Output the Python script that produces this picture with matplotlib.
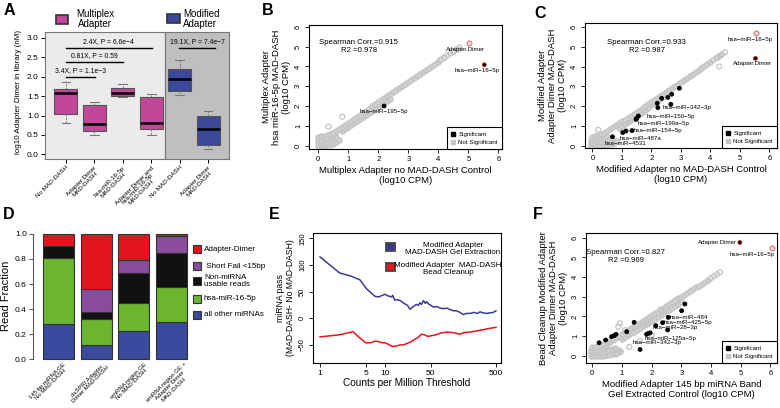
import numpy as np
import matplotlib.pyplot as plt
from matplotlib.lines import Line2D
from matplotlib.patches import Rectangle

plt.rcParams["font.family"] = ["Liberation Sans", "DejaVu Sans"]
plt.rcParams["axes.linewidth"] = 0.8

W, H = 780, 408
MAG = "#c2479b"
NAVY = "#3c4899"
GRAY_PT = "#c4c4c4"
GRAY_FILL = "#d2d2d2"
RING = "#e07070"

# ---------------- A: adapter dimer boxplots ----------------
A_labels = ["No MAD-DASH", "Adapter Dimer\nMAD-DASH", "hsa-miR-16-5p\nMAD-DASH",
            "Adapter Dimer and\nhsa-miR-16-5p\nMAD-DASH", "No MAD-DASH",
            "Adapter Dimer\nMAD-DASH"]
A_adapter = ["Multiplex", "Multiplex", "Multiplex", "Multiplex", "Modified", "Modified"]
A_whislo = [0.81, 0.50, 1.47, 0.51, 1.52, 0.15]
A_q1 = [1.03, 0.61, 1.51, 0.64, 1.62, 0.23]
A_med = [1.59, 0.78, 1.59, 0.81, 1.94, 0.66]
A_q3 = [1.67, 1.27, 1.71, 1.48, 2.19, 0.99]
A_whishi = [1.85, 1.34, 1.80, 1.56, 2.44, 1.12]
A_cmp_from = [1, 1, 1, 4.98]
A_cmp_to = [2.03, 3.0, 4.02, 6.24]
A_cmp_y = [2.0, 2.38, 2.75, 2.75]
A_cmp_text = ["3.4X, P = 1.1e\u22123", "0.81X, P = 0.59", "2.4X, P = 6.6e\u22124",
              "19.1X, P = 7.4e\u22127"]

# ---------------- B: multiplex adapter, miR-16 MAD-DASH ----------------
B_ns_x = [0.0, 0.1, 0.2, 0.3, 0.4, 0.5, 0.6, 0.7,
          0.0, 0.1, 0.2, 0.3, 0.4, 0.5, 0.6,
          0.0, 0.1, 0.2, 0.3, 0.4, 0.5,
          0.0, 0.1, 0.2, 0.3, 0.4,
          0.8, 0.9, 1.0, 1.1, 1.2, 1.3, 1.4, 1.5, 1.6, 1.7, 1.8, 1.9, 2.0, 2.1, 2.2, 2.3, 2.4,
          0.5, 0.6, 0.7, 0.8, 0.9, 1.0, 1.1, 1.2, 1.3, 1.4, 1.5, 1.6, 1.7, 1.8, 1.9, 2.0,
          2.1, 2.2, 2.3, 2.4, 2.5, 2.6, 2.7, 2.8, 2.9, 3.0, 3.1, 3.2, 3.3, 3.4, 3.5, 3.6,
          3.7, 3.8, 3.9, 4.0]
B_ns_y = [0.0, 0.0, 0.0, 0.02, 0.05, 0.1, 0.17, 0.27,
          0.15, 0.15, 0.16, 0.2, 0.24, 0.32, 0.42,
          0.3, 0.3, 0.33, 0.37, 0.43, 0.55,
          0.45, 0.47, 0.5, 0.55, 0.6,
          0.72, 0.82, 0.92, 1.02, 1.12, 1.22, 1.32, 1.43, 1.53, 1.63, 1.74, 1.84, 1.95, 2.05,
          2.16, 2.26, 2.37,
          0.64, 0.74, 0.84, 0.94, 1.05, 1.15, 1.25, 1.36, 1.46, 1.56, 1.67, 1.77, 1.87, 1.98,
          2.08, 2.18, 2.29, 2.39, 2.49, 2.59, 2.70, 2.80, 2.90, 3.01, 3.11, 3.21, 3.32, 3.42,
          3.52, 3.62, 3.73, 3.83, 3.93, 4.04, 4.14, 4.24]
B_out_x = [4.1, 4.2, 4.3, 4.4, 4.5, 4.6, 4.7, 0.34, 0.8, 4.05, 4.2, 4.5, 4.66]
B_out_y = [4.35, 4.45, 4.55, 4.65, 4.76, 4.86, 4.96, 0.96, 1.46, 4.3, 4.42, 4.72, 4.85]
B_sig_x = [2.19, 5.53]
B_sig_y = [2.0, 4.08]
B_sig_names = ["hsa\u2212miR\u2212195\u22125p", "hsa\u2212miR\u221216\u22125p"]
B_ring_x = [5.03]
B_ring_y = [5.17]
B_ring_names = ["Adapter.Dimer"]

# ---------------- C: modified adapter, dimer MAD-DASH ----------------
C_ns_x = [-0.05, 0.05, 0.15, 0.25, 0.35, 0.45, 0.55, 0.65, 0.75, 0.85,
          -0.05, 0.05, 0.15, 0.25, 0.35, 0.45, 0.55, 0.65,
          -0.05, 0.05, 0.15, 0.25, 0.35, 0.45,
          0.0, 0.1, 0.2, 0.3, 0.4,
          0.9, 1.0, 1.1, 1.2, 1.3, 1.4, 1.5, 1.6, 1.7, 1.8, 1.9, 2.0, 2.1, 2.2, 2.3, 2.4, 2.5,
          0.5, 0.6, 0.7, 0.8, 0.9, 1.0, 1.1, 1.2, 1.3, 1.4, 1.5, 1.6, 1.7, 1.8, 1.9, 2.0,
          2.1, 2.2, 2.3, 2.4, 2.5, 2.6, 2.7, 2.8, 2.9, 3.0, 3.1, 3.2, 3.3, 3.4, 3.5, 3.6,
          3.7, 3.8, 3.9, 4.0]
C_ns_y = [0.0, 0.0, 0.0, 0.0, 0.02, 0.03, 0.06, 0.1, 0.15, 0.22,
          0.15, 0.15, 0.16, 0.18, 0.21, 0.25, 0.3, 0.38,
          0.3, 0.31, 0.33, 0.37, 0.42, 0.5,
          0.45, 0.48, 0.53, 0.6, 0.66,
          0.88, 0.98, 1.08, 1.19, 1.29, 1.4, 1.5, 1.61, 1.71, 1.82, 1.92, 2.03, 2.13, 2.24,
          2.34, 2.45, 2.55,
          0.72, 0.82, 0.92, 1.02, 1.12, 1.22, 1.32, 1.42, 1.52, 1.62, 1.72, 1.82, 1.92, 2.02,
          2.12, 2.22, 2.32, 2.42, 2.52, 2.62, 2.72, 2.82, 2.92, 3.02, 3.12, 3.22, 3.32, 3.42,
          3.52, 3.62, 3.72, 3.82, 3.92, 4.02, 4.12, 4.22]
C_out_x = [4.1, 4.2, 4.3, 4.4, 4.5, 4.3, 4.25, 4.35, 0.2]
C_out_y = [4.32, 4.42, 4.52, 4.62, 4.72, 4.0, 4.45, 4.55, 0.8]
C_sig_x = [2.95, 2.69, 2.56, 2.35, 2.2, 2.22, 2.66, 1.56, 1.5, 1.48, 1.34, 1.14, 1.03,
           0.68, 5.53]
C_sig_y = [2.9, 2.6, 2.44, 2.39, 2.14, 1.92, 2.09, 1.5, 1.38, 1.33, 0.76, 0.74, 0.66,
           0.45, 4.41]
C_ring_x = [5.54]
C_ring_y = [5.71]

# ---------------- D: read fractions ----------------
D_samples = ["145 bp miRNA GE\nNo MAD-DASH", "dsSPRI Adapter\nDimer MAD-DASH",
             "smRNA region GE\nNo MAD-DASH", "smRNA region GE +\nAdapter Dimer\nMAD-DASH"]
D_all_other = [0.285, 0.115, 0.23, 0.295]
D_mir16 = [0.525, 0.205, 0.22, 0.28]
D_non_mirna = [0.095, 0.06, 0.235, 0.275]
D_short_fail = [0.0, 0.18, 0.11, 0.135]
D_dimer = [0.095, 0.44, 0.205, 0.015]
D_names = ["all other miRNAs", "hsa-miR-16-5p", "Non-miRNA\nusable reads",
           " Short Fail <15bp", "Adapter-Dimer"]
D_colors = ["#3a4a9c", "#6cb52f", "#111111", "#8a4c9c", "#e3141e"]

# ---------------- E: miRNA pass difference ----------------
E_blue_x = [1, 2, 3, 4.1, 5.1, 6, 7, 8, 9, 10, 11, 12.6, 13, 14, 15, 17, 19.4, 22, 24, 27,
            30, 32, 34, 36, 38.5, 41, 43, 46, 49, 55, 62, 70, 78, 88, 100, 112, 124, 140,
            157, 178, 200, 230, 260, 284, 320, 359, 400, 455, 500]
E_blue_y = [115, 85, 79, 72, 56, 48, 41, 40, 43, 45, 42, 40, 43, 34, 35, 33, 28, 24, 17, 22,
            26, 24, 29, 26, 33, 28, 31, 27, 25, 21, 22, 19, 18, 19, 16, 14, 14, 11, 7, 9,
            9, 11, 9, 12, 10, 9, 10, 11, 14]
E_red_x = [1, 2, 3, 3.2, 4, 5, 6, 7, 8, 9, 10, 12, 13, 15, 17, 19, 22, 25, 28, 32, 36, 40,
           45, 50, 60, 70, 88, 110, 140, 160, 200, 250, 300, 400, 500]
E_red_y = [-35, -31, -26, -25, -36, -46, -46, -43, -44, -46, -46, -51, -53, -52, -50, -50,
           -47, -44, -40, -36, -30, -31, -34, -33, -31, -28, -26, -27, -30, -27, -26, -24,
           -22, -19, -17]

# ---------------- F: bead cleanup vs gel extraction ----------------
F_ns_x = [-0.05, 0.05, 0.15, 0.25, 0.35, 0.45, 0.55, 0.65, 0.75, 0.85, 0.95,
          -0.05, 0.05, 0.15, 0.25, 0.35, 0.45, 0.55, 0.65, 0.75,
          -0.05, 0.05, 0.15, 0.25, 0.35, 0.45,
          0.0, 0.1, 0.2, 0.3, 0.4,
          1.0, 1.1, 1.2, 1.3, 1.4, 1.5, 1.6, 1.7, 1.8, 1.9, 2.0, 2.1, 2.2, 2.3, 2.4, 2.5,
          2.6, 2.7, 2.8, 2.9, 3.0,
          0.5, 0.6, 0.7, 0.8, 0.9, 1.0, 1.1, 1.2, 1.3, 1.4, 1.5, 1.6, 1.7, 1.8, 1.9, 2.0,
          2.1, 2.2, 2.3, 2.4, 2.5, 2.6, 2.7, 2.8, 2.9, 3.0, 3.1, 3.2, 3.3, 3.4, 3.5, 3.6,
          3.7, 3.8, 3.9]
F_ns_y = [0.0, 0.0, 0.0, 0.0, 0.0, 0.02, 0.04, 0.07, 0.1, 0.15, 0.22,
          0.14, 0.14, 0.15, 0.17, 0.2, 0.24, 0.28, 0.34, 0.4,
          0.28, 0.29, 0.31, 0.35, 0.4, 0.48,
          0.42, 0.45, 0.5, 0.56, 0.62,
          0.85, 0.94, 1.04, 1.13, 1.22, 1.32, 1.41, 1.50, 1.59, 1.69, 1.78, 1.87, 1.97, 2.06,
          2.15, 2.25, 2.34, 2.43, 2.52, 2.62, 2.71,
          0.63, 0.72, 0.82, 0.91, 1.01, 1.1, 1.2, 1.29, 1.39, 1.48, 1.58, 1.67, 1.77, 1.86,
          1.96, 2.05, 2.15, 2.24, 2.34, 2.43, 2.53, 2.62, 2.72, 2.81, 2.91, 3.0, 3.1, 3.19,
          3.29, 3.38, 3.48, 3.57, 3.67, 3.76, 3.86]
F_out_x = [4.0, 4.1, 4.2, 4.3, 2.3, 2.45, 1.44, 1.7, 1.88, 0.93, 0.88, 0.53, 0.88, 0.95,
           1.25, 1.6, 2.0, 1.1]
F_out_y = [3.95, 4.05, 4.14, 4.24, 2.35, 2.28, 1.52, 1.55, 1.6, 1.65, 1.48, 0.71, 0.29,
           0.18, 0.45, 0.75, 1.05, 1.3]
F_sig_x = [3.12, 3.01, 2.56, 2.37, 2.14, 2.54, 1.89, 1.83, 1.95, 1.41, 1.61, 1.16, 0.8,
           0.74, 0.65, 0.45, 0.23, 4.97]
F_sig_y = [2.63, 2.29, 1.95, 1.68, 1.53, 1.31, 1.14, 1.09, 1.16, 1.7, 0.32, 1.22, 1.09,
           1.02, 0.97, 0.8, 0.66, 5.76]
F_ring_x = [6.05]
F_ring_y = [5.46]

fig = plt.figure(figsize=(7.8, 4.08), dpi=100)


def px_axes(left, top, right, bottom):
    return fig.add_axes([left / W, 1 - bottom / H, (right - left) / W, (bottom - top) / H])


def ftext(x, y, s, **kw):
    fig.text(x / W, 1 - y / H, s, **kw)


def fsquare(left, top, size_w, size_h, color, lw=1.2, edge="#333333"):
    fig.add_artist(Rectangle((left / W, 1 - (top + size_h) / H), size_w / W, size_h / H,
                             transform=fig.transFigure, facecolor=color,
                             edgecolor=edge, lw=lw))


for letter, x, y in [("A", 4, 3), ("B", 262, 3), ("C", 534, 6),
                     ("D", 3, 207), ("E", 269, 207), ("F", 533, 207)]:
    ftext(x, y, letter, fontsize=11.5, fontweight="bold", va="top", ha="left")

# ---------------- panel A ----------------
ax = px_axes(45, 32, 229, 159)
ax.set_xlim(0.27, 6.73)
ax.set_ylim(-0.12, 3.15)
ax.axvspan(0.27, 4.5, color="#ebebeb", zorder=0)
ax.axvspan(4.5, 6.73, color="#bfbfbf", zorder=0)
ax.axvline(4.5, color="#777777", lw=0.8, zorder=1)
stats = [dict(whislo=a, q1=b, med=c, q3=d, whishi=e, fliers=[])
         for a, b, c, d, e in zip(A_whislo, A_q1, A_med, A_q3, A_whishi)]
bp = ax.bxp(stats, positions=range(1, 7), widths=0.81, patch_artist=True,
            showfliers=False, capwidths=0.3, manage_ticks=False,
            boxprops=dict(edgecolor="#555555", lw=0.8),
            medianprops=dict(color="black", lw=1.8),
            whiskerprops=dict(color="#777777", lw=0.7, ls=(0, (2, 1.5))),
            capprops=dict(color="#777777", lw=0.8))
for patch, grp in zip(bp["boxes"], A_adapter):
    patch.set_facecolor(MAG if grp == "Multiplex" else NAVY)
for x0, x1, y, s in zip(A_cmp_from, A_cmp_to, A_cmp_y, A_cmp_text):
    ax.plot([x0, x1], [y, y], color="black", lw=1.0)
    ax.text((x0 + x1) / 2, y + 0.07, s, ha="center", va="bottom", fontsize=4.9)
ax.set_yticks([0, 0.5, 1, 1.5, 2, 2.5, 3])
ax.set_yticklabels(["0.0", "0.5", "1.0", "1.5", "2.0", "2.5", "3.0"])
ax.set_xticks(range(1, 7))
ax.set_xticklabels(A_labels, rotation=45, ha="right", va="top", rotation_mode="anchor",
                   multialignment="center", linespacing=0.95)
ax.tick_params(axis="x", labelsize=4.5, length=3, pad=1.5, width=0.7)
ax.tick_params(axis="y", labelsize=6, length=3, pad=1.5, width=0.7)
for s in ax.spines.values():
    s.set_color("#777777")
ftext(19, 92, "log10 Adapter Dimer in library (nM)", rotation=90, ha="center",
      va="center", fontsize=5.8)
fsquare(56, 15, 12, 9, MAG)
ftext(95, 19, "Multiplex\nAdapter", ha="center", va="center", fontsize=7, linespacing=1.1)
fsquare(167, 14, 13, 9, NAVY)
ftext(183, 19, "Modified\nAdapter", ha="left", va="center", fontsize=7, linespacing=1.1)


# ---------------- scatter panels ----------------
def scatter_panel(box, xlim, ylim, ns_x, ns_y, out_x, out_y, sig_x, sig_y, ring_x, ring_y,
                  red_edge_idx):
    ax = px_axes(*box)
    ax.scatter(ns_x, ns_y, s=13, facecolors=GRAY_FILL, edgecolors=GRAY_PT, lw=1.0, zorder=2)
    ax.scatter(out_x, out_y, s=13, facecolors="none", edgecolors=GRAY_PT, lw=0.9, zorder=2)
    edges = ["black"] * len(sig_x)
    edges[red_edge_idx] = "#c03030"
    ax.scatter(sig_x, sig_y, s=8, c="black", edgecolors=edges, lw=0.6, zorder=3)
    ax.scatter(ring_x, ring_y, s=12, facecolors="#f2dede", edgecolors=RING, lw=0.8, zorder=3)
    ax.set_xlim(xlim)
    ax.set_ylim(ylim)
    ax.set_xticks(range(7))
    ax.set_xticklabels([str(i) for i in range(7)])
    ax.set_yticks(range(7))
    ax.set_yticklabels([str(i) for i in range(7)], rotation=90, va="center")
    ax.tick_params(labelsize=5.5, length=3, pad=2, width=0.6)
    handles = [Line2D([], [], ls="", marker="s", color="black", ms=2.2, label="Significant"),
               Line2D([], [], ls="", marker="s", color=GRAY_PT, ms=2.2,
                      label="Not Significant")]
    leg = ax.legend(handles=handles, loc="lower right", fontsize=4.4, fancybox=False,
                    edgecolor="black", borderaxespad=0, handlelength=0.6,
                    handletextpad=0.5, borderpad=0.7, labelspacing=0.45, framealpha=1)
    leg.get_frame().set_linewidth(0.8)
    return ax


lab = dict(fontsize=4.4, va="center")

ax = scatter_panel((309, 25, 502, 149), (-0.31, 6.12), (-0.17, 6.09), B_ns_x, B_ns_y,
                   B_out_x, B_out_y, B_sig_x, B_sig_y, B_ring_x, B_ring_y, 1)
ax.text(1.35, 5.2, "Spearman Corr.=0.915", ha="center", va="center", fontsize=5.6)
ax.text(1.35, 4.78, "R2 =0.978", ha="center", va="center", fontsize=5.6)
ax.text(4.91, 4.87, B_ring_names[0], ha="center", **lab)
ax.text(5.28, 3.77, B_sig_names[1], ha="center", **lab)
ax.text(2.19, 1.72, B_sig_names[0], ha="center", **lab)
ax.set_xlabel("Multiplex Adapter no MAD-DASH Control\n(log10 CPM)", fontsize=6.8,
              labelpad=2, linespacing=1.15)
ax.set_ylabel("Multiplex Adapter\nhsa miR-16-5p MAD-DASH\n(log10 CPM)", fontsize=6.8,
              labelpad=3, linespacing=1.15)

ax = scatter_panel((585, 23, 777, 148), (-0.25, 6.26), (-0.12, 6.2), C_ns_x, C_ns_y,
                   C_out_x, C_out_y, C_sig_x, C_sig_y, C_ring_x, C_ring_y, -1)
ax.text(1.84, 5.22, "Spearman Corr.=0.933", ha="center", va="center", fontsize=5.6)
ax.text(1.84, 4.8, "R2 =0.987", ha="center", va="center", fontsize=5.6)
ax.text(5.35, 5.39, "hsa\u2212miR\u221216\u22125p", ha="center", **lab)
ax.text(5.44, 4.13, "Adapter.Dimer", ha="center", **lab)
for x, y, s in [(2.37, 1.92, "hsa\u2212miR\u2212342\u22123p"),
                (1.84, 1.47, "hsa\u2212miR\u2212150\u22125p"),
                (1.53, 1.13, "hsa\u2212miR\u2212199a\u22125p"),
                (1.39, 0.74, "hsa\u2212miR\u2212154\u22125p"),
                (0.94, 0.37, "hsa\u2212miR\u2212487a"),
                (0.43, 0.09, "hsa\u2212miR\u22124531")]:
    ax.text(x, y, s, ha="left", **lab)
ax.set_xlabel("Modified Adapter no MAD-DASH Control\n(log10 CPM)", fontsize=6.8,
              labelpad=2, linespacing=1.15)
ax.set_ylabel("Modified Adapter\nAdapter Dimer MAD-DASH\n(log10 CPM)", fontsize=6.8,
              labelpad=3, linespacing=1.15)

ax = scatter_panel((586, 233, 777, 363), (-0.21, 6.22), (-0.37, 6.24), F_ns_x, F_ns_y,
                   F_out_x, F_out_y, F_sig_x, F_sig_y, F_ring_x, F_ring_y, -1)
ax.text(1.13, 5.26, "Spearman Corr.=0.827", ha="center", va="center", fontsize=5.6)
ax.text(1.13, 4.84, "R2 =0.969", ha="center", va="center", fontsize=5.6)
ax.text(4.86, 5.76, "Adapter.Dimer", ha="right", **lab)
ax.text(5.39, 5.15, "hsa\u2212miR\u221216\u22125p", ha="center", **lab)
for x, y, s in [(2.59, 1.95, "hsa\u2212miR\u2212484"),
                (2.39, 1.68, "hsa\u2212miR\u2212425\u22125p"),
                (2.03, 1.43, "hsa\u2212miR\u221228\u22123p"),
                (1.75, 0.88, "hsa\u2212miR\u2212125a\u22125p"),
                (1.35, 0.68, "hsa\u2212miR\u2212342\u22123p")]:
    ax.text(x, y, s, ha="left", **lab)
ax.set_xlabel("Modified Adapter 145 bp miRNA Band\nGel Extracted Control (log10 CPM)",
              fontsize=6.8, labelpad=2, linespacing=1.15)
ax.set_ylabel("Bead Cleanup Modified Adapter\nAdapter Dimer MAD-DASH\n(log10 CPM)",
              fontsize=6.8, labelpad=3, linespacing=1.15)

# ---------------- panel D ----------------
ax = px_axes(33, 230, 190, 362)
pos = np.arange(1, 5)
bottom = np.zeros(4)
for vals, col in zip([D_all_other, D_mir16, D_non_mirna, D_short_fail, D_dimer], D_colors):
    ax.bar(pos, vals, bottom=bottom, width=0.82, color=col, edgecolor="#333333", lw=0.8)
    bottom += np.array(vals)
ax.set_xlim(0.32, 4.49)
ax.set_ylim(-0.02, 1.03)
for side in ["top", "right", "bottom"]:
    ax.spines[side].set_visible(False)
ax.spines["left"].set_bounds(0, 1)
ax.spines["left"].set_color("#555555")
ax.set_yticks([0, 0.2, 0.4, 0.6, 0.8, 1.0])
ax.set_yticklabels(["0.0", "0.2", "0.4", "0.6", "0.8", "1.0"])
ax.tick_params(axis="y", labelsize=6, length=3, pad=1.5, width=0.7, color="#555555")
ax.set_xticks([])
for p, name, dx in zip(pos, D_samples, [3, 5, 7, 9]):
    ax.annotate(name, xy=(p, 0), xycoords="data", xytext=(dx, -1.5),
                textcoords="offset points", rotation=45, ha="right", va="top",
                rotation_mode="anchor", multialignment="center", linespacing=1.0,
                fontsize=4.3, annotation_clip=False)
ax.set_ylabel("Read Fraction", fontsize=8, labelpad=3)
leg_y = {"Adapter-Dimer": 249, " Short Fail <15bp": 266, "Non-miRNA\nusable reads": 281,
         "hsa-miR-16-5p": 299, "all other miRNAs": 315}
for name, col in zip(D_names, D_colors):
    fsquare(193, leg_y[name] - 4, 8, 8, col, lw=0.8)
    ftext(204, leg_y[name], name, ha="left", va="center", fontsize=5.8, linespacing=1.1)

# ---------------- panel E ----------------
ax = px_axes(313, 233, 501, 363)
ax.set_xscale("log")
ax.plot(E_blue_x, E_blue_y, color="#393c96", lw=1.1)
ax.plot(E_red_x, E_red_y, color="#e8141c", lw=1.1)
ax.set_xlim(0.78, 597)
ax.set_ylim(-84, 160)
ax.set_xticks([1, 5, 10, 50, 500])
ax.set_xticklabels(["1", "5", "10", "50", "500"])
ax.minorticks_off()
ax.set_yticks([-50, 0, 50, 100, 150])
ax.set_yticklabels(["\u221250", "0", "50", "100", "150"], rotation=90, va="center")
ax.tick_params(axis="x", labelsize=6, length=3, pad=2, width=0.6)
ax.tick_params(axis="y", labelsize=5.5, length=3, pad=2, width=0.6)
ax.set_xlabel("Counts per Million Threshold", fontsize=7.2, labelpad=1)
ax.set_ylabel("miRNA pass\n(MAD-DASH- No MAD-DASH)", fontsize=6.2, labelpad=3,
              linespacing=1.15)
fsquare(386, 243, 9, 8, "#393c96", lw=1.3, edge="#444444")
ftext(453, 249, "Modified Adapter\nMAD-DASH Gel Extraction", ha="center", va="center",
      fontsize=5.8, linespacing=1.15)
fsquare(386, 263, 9, 8, "#e8141c", lw=1.3, edge="#444444")
ftext(448, 269, "Modified Adapter  MAD-DASH\nBead Cleanup", ha="center", va="center",
      fontsize=5.8, linespacing=1.15)

fig.savefig("out.png", dpi=100)
